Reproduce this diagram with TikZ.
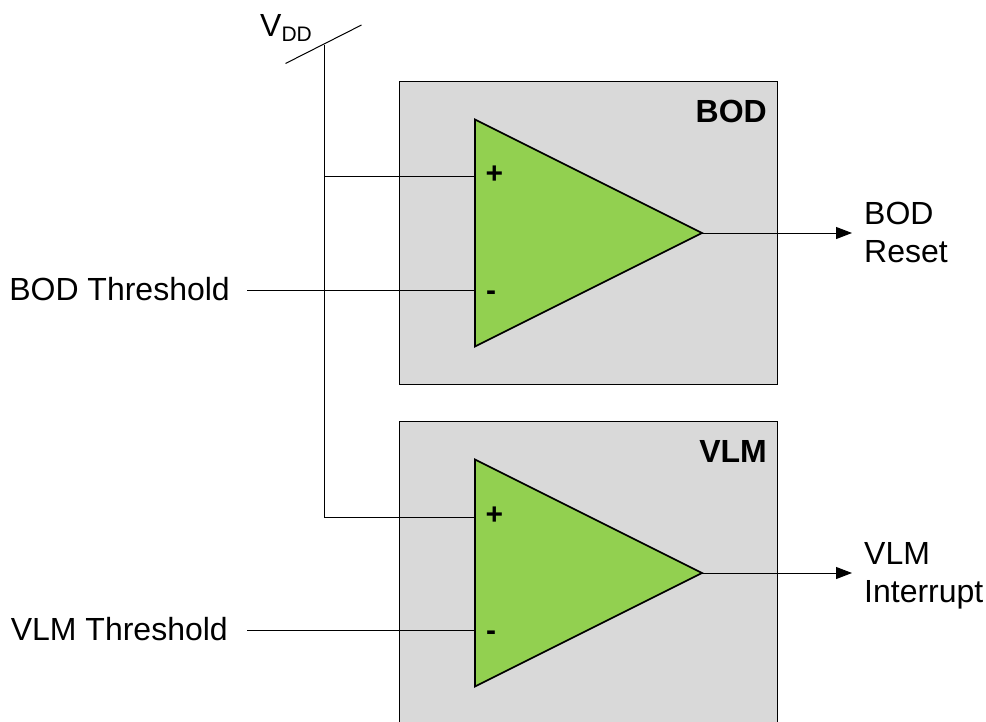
\documentclass[tikz,border=0pt]{standalone}
\usepackage{fontspec}
\setmainfont{Liberation Sans}
\usepackage{xcolor}
\usetikzlibrary{arrows.meta}
\definecolor{boxgray}{HTML}{D9D9D9}
\definecolor{ampgreen}{HTML}{92D050}

\begin{document}
\begin{tikzpicture}[
  x=1pt, y=-1pt,
  every node/.style={font=\fontsize{32}{38}\selectfont, inner sep=0pt},
  block/.style={rectangle, draw, fill=boxgray, line width=0.9pt, minimum width=378pt, minimum height=302.5pt},
  amp/.style={draw, fill=ampgreen, line width=1.6pt, line join=miter},
  wire/.style={draw, line width=1pt},
  outarr/.style={wire, -{Triangle[length=16pt, width=12pt]}},
  sign/.style={font=\fontsize{30}{34}\selectfont\bfseries},
  title/.style={font=\fontsize{32}{38}\selectfont\bfseries, anchor=base east},
  lbl/.style={anchor=base west},
  thr/.style={anchor=base east},
]
\clip (0,0) rectangle (986,721);
% blocks
\node[block] (bodbox) at (588.5, 232.75) {};
\node[block] (vlmbox) at (588.5, 572.75) {};
\node[title] (bodtitle) at (767, 122) {BOD};
\node[title] (vlmtitle) at (767, 462) {VLM};
% supply
\coordinate (vddtop) at (324, 44.5);
\coordinate (slasha) at (285.5, 63.5);
\coordinate (slashb) at (361.5, 25);
\coordinate (bodjoin) at (324, 176.5);
\coordinate (vlmjoin) at (324, 517);
\node[anchor=base west] (vdd) at (260, 36) {V\raisebox{-0.3ex}{\fontsize{21}{24}\selectfont DD}};
% wires into the amplifiers
\coordinate (bodp) at (475, 176.5);
\coordinate (bodm) at (475, 290);
\coordinate (vlmp) at (475, 517);
\coordinate (vlmm) at (475, 630.5);
\coordinate (bodoutp) at (702, 233);
\coordinate (vlmoutp) at (702, 573);
\coordinate (bodthrend) at (247, 290);
\coordinate (vlmthrend) at (247, 630.5);
\coordinate (bodarr) at (852, 233);
\coordinate (vlmarr) at (852, 573);
\draw[wire] (slasha) -- (slashb);
\draw[wire] (vddtop) -- (vlmjoin) -- (vlmp);
\draw[wire] (bodjoin) -- (bodp);
\draw[wire] (bodthrend) -- (bodm);
\draw[wire] (vlmthrend) -- (vlmm);
% amplifiers
\draw[amp] (475, 119.5) -- (475, 346.5) -- (bodoutp) -- cycle;
\draw[amp] (475, 459.5) -- (475, 686.5) -- (vlmoutp) -- cycle;
\node[sign] (bodplus) at (494.5, 175) {+};
\node[sign] (bodminus) at (491, 296) {-};
\node[sign] (vlmplus) at (494.5, 515.5) {+};
\node[sign] (vlmminus) at (491, 636) {-};
\draw[outarr] (bodoutp) -- (bodarr);
\draw[outarr] (vlmoutp) -- (vlmarr);
% labels
\node[thr] (bodthr) at (230, 300) {BOD Threshold};
\node[thr] (vlmthr) at (228, 640) {VLM Threshold};
\node[lbl] (bodout) at (864, 224) {BOD};
\node[lbl] (bodrst) at (864, 262) {Reset};
\node[lbl] (vlmout) at (864, 564) {VLM};
\node[lbl] (vlmirq) at (864, 602) {Interrupt};
\end{tikzpicture}
\end{document}
